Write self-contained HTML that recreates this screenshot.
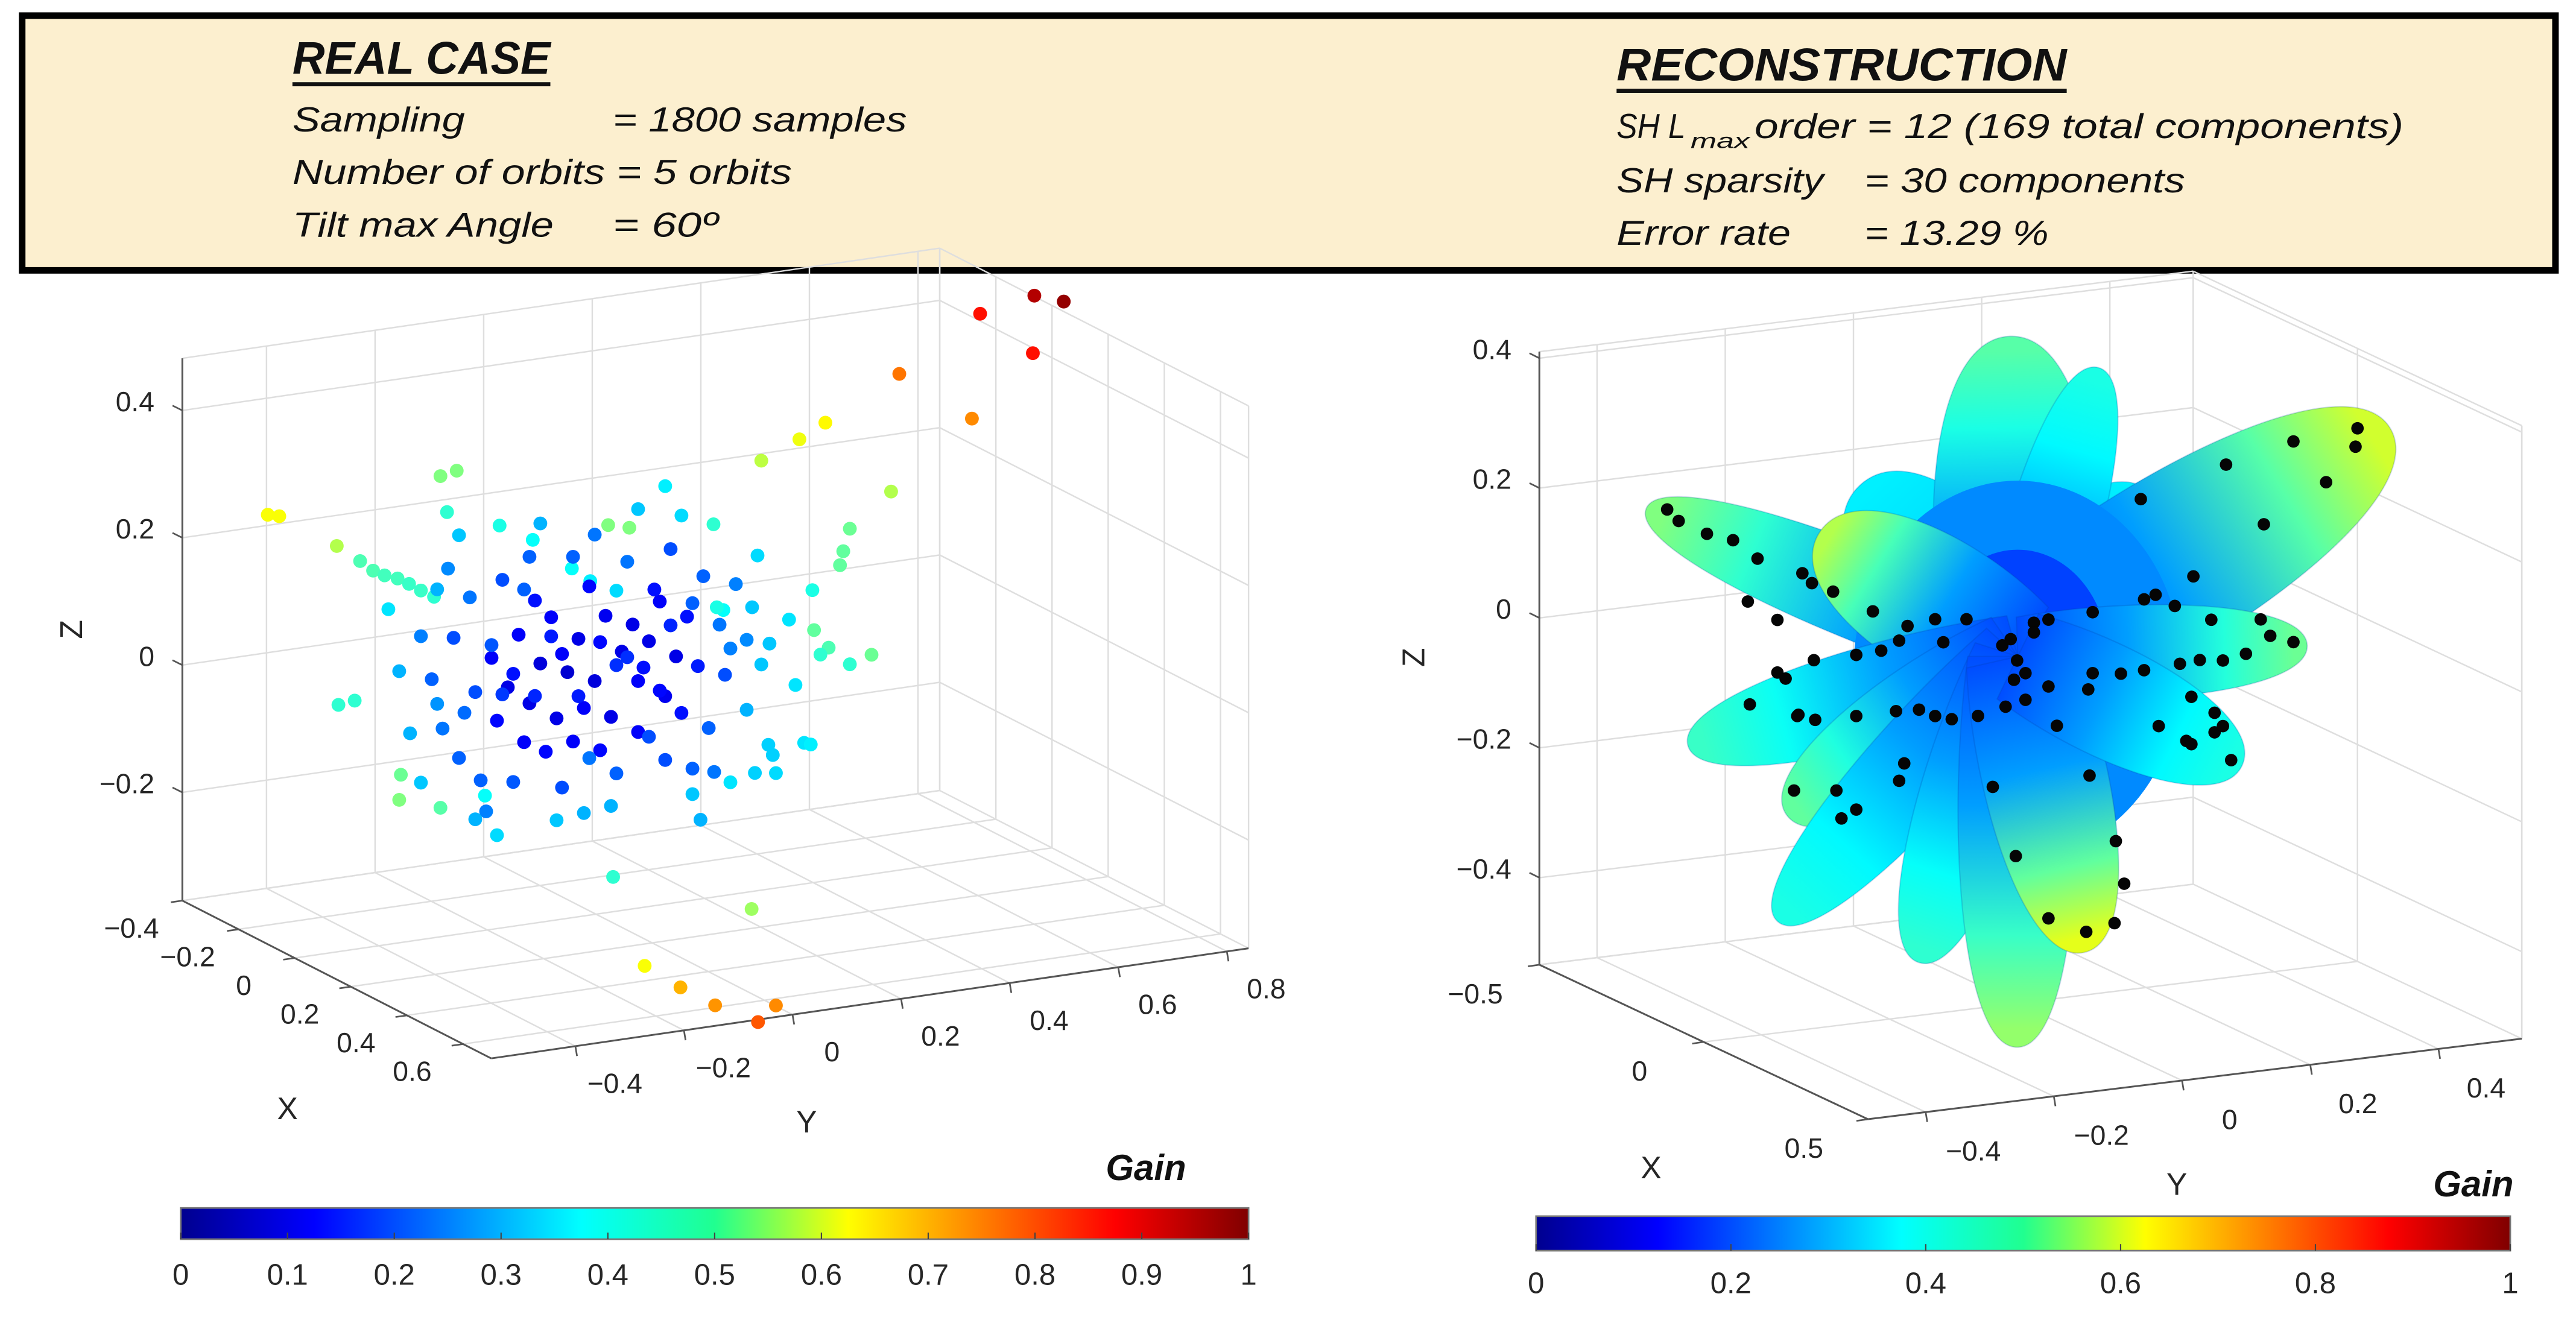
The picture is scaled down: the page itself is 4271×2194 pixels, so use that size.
<!DOCTYPE html>
<html><head><meta charset="utf-8">
<style>
html,body{margin:0;padding:0;background:#fff;}
svg{display:block;}
text{font-family:"Liberation Sans",Arial,sans-serif;}
</style></head>
<body>
<svg id="fig" xmlns="http://www.w3.org/2000/svg" width="4271" height="2194" viewBox="0 0 1568 805" preserveAspectRatio="none">
  <defs>
    <linearGradient id="jetbar" x1="0" y1="0" x2="1" y2="0">
      <stop offset="0" stop-color="#00008f"/>
      <stop offset="0.125" stop-color="#0000ff"/>
      <stop offset="0.375" stop-color="#00ffff"/>
      <stop offset="0.5" stop-color="#20ff90"/>
      <stop offset="0.625" stop-color="#ffff00"/>
      <stop offset="0.875" stop-color="#ff0000"/>
      <stop offset="1" stop-color="#800000"/>
    </linearGradient>
  </defs>
  <g>
    <rect x="13.5" y="9.5" width="1542" height="155" fill="#fcefcf" stroke="#000" stroke-width="4"/>
    <g font-style="italic" fill="#111">
      <text x="178" y="45" font-size="28" font-weight="bold" textLength="157" lengthAdjust="spacingAndGlyphs">REAL CASE</text>
      <rect x="178" y="50" width="157" height="2.5" fill="#111"/>
      <text x="178" y="80" font-size="21" textLength="105" lengthAdjust="spacingAndGlyphs">Sampling</text>
      <text x="373" y="80" font-size="21" textLength="179" lengthAdjust="spacingAndGlyphs">=  1800 samples</text>
      <text x="178" y="112" font-size="21" textLength="304" lengthAdjust="spacingAndGlyphs">Number of orbits = 5 orbits</text>
      <text x="178" y="144" font-size="21" textLength="159" lengthAdjust="spacingAndGlyphs">Tilt max Angle</text>
      <text x="373" y="144" font-size="21" textLength="64" lengthAdjust="spacingAndGlyphs">=  60º</text>

      <text x="984" y="49" font-size="28" font-weight="bold" textLength="274" lengthAdjust="spacingAndGlyphs">RECONSTRUCTION</text>
      <rect x="984" y="54" width="274" height="2.5" fill="#111"/>
      <text x="984" y="84" font-size="21" textLength="42" lengthAdjust="spacingAndGlyphs">SH L</text>
      <text x="1029" y="90" font-size="13" textLength="36" lengthAdjust="spacingAndGlyphs">max</text>
      <text x="1068" y="84" font-size="21" textLength="395" lengthAdjust="spacingAndGlyphs">order =  12  (169 total components)</text>
      <text x="984" y="117" font-size="21" textLength="126" lengthAdjust="spacingAndGlyphs">SH sparsity</text>
      <text x="1135" y="117" font-size="21" textLength="195" lengthAdjust="spacingAndGlyphs">=  30 components</text>
      <text x="984" y="149" font-size="21" textLength="106" lengthAdjust="spacingAndGlyphs">Error rate</text>
      <text x="1135" y="149" font-size="21" textLength="112" lengthAdjust="spacingAndGlyphs">=  13.29 %</text>
    </g>
  </g>
  <g id="left"></g>
  <g id="right"></g>
  <g id="cbars"></g>
</svg>
<script>
// ---------- LEFT CHART DATA (real case samples) ----------
const leftXTicks = [-0.4, -0.2, 0, 0.2, 0.4, 0.6];
const leftYTicks = [-0.4, -0.2, 0, 0.2, 0.4, 0.6, 0.8];
const leftZTicks = [-0.2, 0, 0.2, 0.4];
const LEFT_X = 0.15;
const leftY = [0.73,0.784,0.63,0.727,0.481,0.615,0.345,0.297,0.227,0.466,0.39,0.378,0.372,-0.682,-0.661,-0.555,-0.512,-0.488,-0.467,-0.443,-0.422,-0.40,-0.376,-0.364,-0.334,-0.352,-0.255,-0.194,-0.055,-0.016,0.139,-0.122,-0.088,-0.04,-0.437,-0.44,-0.364,-0.282,-0.552,-0.522,-0.10,0.115,-0.046,0.209,0.012,0.078,0.142,0.221,0.254,
0.43,0.39,0.351,0.336,0.324,0.321,0.306,0.318,0.254,0.215,0.248,0.29,0.242,0.278,0.227,0.157,0.145,
-0.27,-0.24,-0.22,-0.2,-0.18,-0.16,-0.15,-0.13,-0.11,-0.1,-0.08,-0.06,-0.05,-0.03,-0.01,0.0,0.02,0.04,0.05,0.07,-0.26,-0.21,-0.17,-0.12,-0.07,0.0,0.03,-0.19,-0.09,0.09,0.11,0.08,
-0.23,-0.19,-0.14,-0.11,-0.07,-0.04,0.01,0.06,-0.25,-0.16,-0.02,0.04,
-0.38,-0.36,-0.34,-0.33,-0.31,-0.3,-0.29,-0.25,-0.23,-0.2,-0.14,-0.12,-0.04,-0.02,0.05,0.06,0.12,0.13,0.15,0.16,0.18,0.14,0.1,-0.08,0.2,-0.4,-0.35,-0.28,
-0.32,-0.27,-0.09,0.02,0.1,0.17,-0.37,-0.21,
-0.44,-0.42,-0.4,-0.37,-0.33,-0.3,-0.26,-0.18,-0.15,-0.05,0.0,0.08,0.1,0.17,0.21,0.22,0.24,0.2,-0.46,0.05];
const leftZ = [0.545,0.529,0.529,0.455,0.453,0.366,0.393,0.373,0.348,0.27,0.221,0.187,0.166,0.376,0.371,0.311,0.282,0.264,0.254,0.246,0.235,0.222,0.209,0.397,0.402,0.339,0.306,0.276,0.282,0.273,0.259,0.222,0.198,0.177,-0.063,-0.102,-0.124,-0.115,0.061,0.064,-0.165,-0.202,-0.272,-0.354,-0.419,-0.461,-0.497,-0.533,-0.511,
0.018,0.008,0.039,0.03,0.07,0.133,-0.105,-0.109,-0.146,-0.141,-0.117,-0.012,0.059,0.092,0.028,0.122,0.128,
0.10,0.05,0.13,0.02,0.08,0.15,-0.01,0.06,0.11,0.0,0.04,0.14,-0.02,0.08,0.12,0.03,0.09,0.15,0.0,0.06,0.0,-0.04,-0.06,-0.05,-0.07,-0.05,0.17,0.18,0.19,0.12,0.04,-0.03,
0.07,0.03,0.09,0.02,0.1,0.06,0.05,0.11,0.04,0.12,0.07,0.01,
0.08,0.0,0.14,-0.05,0.2,0.05,-0.09,0.22,-0.1,0.25,-0.12,0.24,-0.11,0.22,-0.1,0.23,0.18,-0.06,0.1,0.02,0.16,-0.13,-0.12,0.27,0.07,0.15,0.25,-0.14,
0.02,0.12,-0.08,-0.06,0.14,0.06,0.04,0.2,
0.1,0.0,-0.08,0.22,0.3,-0.15,-0.18,0.3,-0.17,-0.16,0.3,0.28,-0.16,-0.15,0.12,0.2,-0.1,-0.04,0.2,0.33];
const leftGain = [0.95,0.98,0.86,0.86,0.76,0.74,0.63,0.61,0.56,0.55,0.48,0.47,0.47,0.62,0.62,0.55,0.45,0.45,0.44,0.44,0.43,0.43,0.42,0.5,0.5,0.42,0.4,0.38,0.5,0.5,0.42,0.38,0.36,0.34,0.48,0.5,0.46,0.38,0.42,0.42,0.3,0.3,0.42,0.53,0.62,0.7,0.73,0.79,0.74,
0.48,0.42,0.45,0.42,0.47,0.4,0.35,0.36,0.34,0.33,0.33,0.35,0.32,0.35,0.32,0.38,0.4,
0.12,0.1,0.12,0.1,0.09,0.12,0.1,0.08,0.1,0.12,0.09,0.11,0.1,0.1,0.1,0.12,0.1,0.12,0.11,0.1,0.13,0.12,0.13,0.12,0.13,0.12,0.14,0.14,0.13,0.14,0.15,0.14,
0.14,0.16,0.12,0.15,0.13,0.17,0.14,0.16,0.18,0.15,0.17,0.13,
0.22,0.24,0.2,0.22,0.24,0.2,0.22,0.2,0.21,0.22,0.2,0.22,0.22,0.24,0.2,0.2,0.22,0.22,0.24,0.2,0.25,0.24,0.22,0.24,0.26,0.25,0.26,0.25,
0.23,0.21,0.24,0.2,0.22,0.25,0.27,0.22,
0.3,0.3,0.32,0.3,0.32,0.3,0.34,0.3,0.32,0.3,0.32,0.34,0.32,0.35,0.32,0.34,0.33,0.3,0.35,0.36];

// ---------- RIGHT CHART DATA (reconstruction) ----------
const rightXTicks = [-0.5, 0, 0.5];
const rightYTicks = [-0.4, -0.2, 0, 0.2, 0.4];
const rightZTicks = [-0.4, -0.2, 0, 0.2, 0.4];
const lobeY = [-0.234,0.197,-0.011,0.12,0.553,-0.552,-0.295,0.43,-0.49,-0.344,-0.357,-0.147,-0.001,0.099,0.333];
const lobeZ = [0.28,0.218,0.471,0.409,0.268,0.284,0.217,-0.036,-0.071,-0.19,-0.345,-0.431,-0.573,-0.446,-0.201];
const lobeGain = [0.36,0.36,0.46,0.4,0.58,0.5,0.55,0.48,0.43,0.47,0.4,0.42,0.52,0.6,0.4];
const sampleY = [0.53,0.527,0.481,0.384,0.274,0.197,0.215,0.192,0.325,0.43,-0.547,-0.529,-0.444,-0.485,-0.406,-0.336,-0.321,-0.288,-0.226,-0.421,-0.375,-0.129,-0.08,-0.172,-0.116,-0.185,-0.213,-0.252,-0.318,-0.375,-0.362,-0.418,-0.342,-0.316,-0.252,-0.19,-0.154,-0.129,-0.103,-0.062,-0.019,0.012,0.048,0.11,0.117,0.161,0.197,0.253,0.284,0.32,0.356,0.394,0.379,0.43,0.302,0.245,-0.024,-0.011,0.025,0.048,0.025,-0.001,-0.006,0.012,0.117,0.22,0.263,0.271,0.307,0.32,0.333,0.307,0.271,0.061,-0.349,-0.283,-0.275,-0.252,-0.185,-0.177,-0.039,0.112,0.153,-0.003,0.166,0.048,0.107,0.151,-0.344];
const sampleZ = [0.287,0.259,0.21,0.157,0.09,0.064,0.069,0.219,0.256,0.279,0.293,0.273,0.233,0.248,0.2,0.169,0.152,0.135,0.097,0.136,0.102,0.073,0.067,0.068,0.036,0.047,0.035,0.033,0.033,0.021,0.01,-0.023,-0.048,-0.059,-0.061,-0.061,-0.063,-0.076,-0.084,-0.084,-0.075,-0.068,-0.052,-0.064,-0.04,-0.046,-0.045,-0.042,-0.04,-0.045,-0.039,-0.016,0.011,-0.03,0.02,0.048,0.02,0.028,0.049,0.051,0.034,-0.006,-0.035,-0.027,0.054,-0.134,-0.162,-0.168,-0.154,-0.146,-0.2,-0.124,-0.095,-0.114,-0.164,-0.172,-0.216,-0.205,-0.169,-0.143,-0.196,-0.197,-0.303,-0.307,-0.37,-0.409,-0.437,-0.429,-0.05];

// ---------- COLORBAR DATA ----------
const leftBarTicks = [0,0.1,0.2,0.3,0.4,0.5,0.6,0.7,0.8,0.9,1];
const rightBarTicks = [0,0.2,0.4,0.6,0.8,1];

// ---------- helpers ----------
const NS = "http://www.w3.org/2000/svg";
function mk(parent, tag, attrs){ const e=document.createElementNS(NS,tag); for(const k in attrs) e.setAttribute(k,attrs[k]); parent.appendChild(e); return e; }
function clamp(v){ return Math.max(0, Math.min(1, v)); }
function jet(v){
  const r=clamp(1.5-Math.abs(4*v-3)), g=clamp(1.5-Math.abs(4*v-2)), b=clamp(1.5-Math.abs(4*v-1));
  return "rgb("+Math.round(r*255)+","+Math.round(g*255)+","+Math.round(b*255)+")";
}
function fmt(v){ if(Math.abs(v)<1e-9) return "0"; const s=String(Math.round(v*10)/10); return v<0 ? "\u2212"+s.slice(1) : s; }
function makeAxes(cfg){
  return function(x,y,z){
    const u=(x-cfg.xr[0])/(cfg.xr[1]-cfg.xr[0]);
    const v=(y-cfg.yr[0])/(cfg.yr[1]-cfg.yr[0]);
    const w=(z-cfg.zr[0])/(cfg.zr[1]-cfg.zr[0]);
    return [cfg.A[0]+u*(cfg.B[0]-cfg.A[0])+v*(cfg.C[0]-cfg.B[0]),
            cfg.A[1]+u*(cfg.B[1]-cfg.A[1])+v*(cfg.C[1]-cfg.B[1])-w*cfg.H];
  };
}
function line(g,p,q,stroke,sw,name){
  const l=mk(g,"line",{x1:p[0],y1:p[1],x2:q[0],y2:q[1],stroke:stroke,"stroke-width":sw});
  
  
  return l;
}
function label(g,x,y,str,anchor,size,name){
  const t=mk(g,"text",{x:x,y:y,"text-anchor":anchor,"font-size":size,fill:"#262626","dominant-baseline":"middle"});
  t.textContent=str;
  
  
  return t;
}
function drawBox(g,cfg,P,xt,yt,zt,lab){
  const gc="#dedede", x0=cfg.xr[0], x1=cfg.xr[1], y0=cfg.yr[0], y1=cfg.yr[1], z0=cfg.zr[0], z1=cfg.zr[1];
  const grid=mk(g,"g",{});
  
  
  xt.forEach(x=>line(grid,P(x,y0,z0),P(x,y1,z0),gc,0.9,"floor-grid-x"));
  yt.forEach(y=>line(grid,P(x0,y,z0),P(x1,y,z0),gc,0.9,"floor-grid-y"));
  yt.forEach(y=>line(grid,P(x0,y,z0),P(x0,y,z1),gc,0.9,"wall-grid-y"));
  zt.forEach(z=>line(grid,P(x0,y0,z),P(x0,y1,z),gc,0.9,"wall-grid-z"));
  xt.forEach(x=>line(grid,P(x,y1,z0),P(x,y1,z1),gc,0.9,"wall2-grid-x"));
  zt.forEach(z=>line(grid,P(x0,y1,z),P(x1,y1,z),gc,0.9,"wall2-grid-z"));
  line(grid,P(x0,y1,z0),P(x0,y1,z1),gc,0.9,"box-edge");
  line(grid,P(x1,y1,z0),P(x1,y1,z1),gc,0.9,"box-edge");
  line(grid,P(x0,y0,z1),P(x0,y1,z1),gc,0.9,"box-edge");
  line(grid,P(x0,y1,z1),P(x1,y1,z1),gc,0.9,"box-edge");
  line(grid,P(x0,y1,z0),P(x1,y1,z0),gc,0.9,"box-edge");
  line(grid,P(x0,y0,z0),P(x0,y1,z0),gc,0.9,"box-edge");
  const ax=mk(g,"g",{});
  
  
  const ac="#555";
  line(ax,P(x0,y0,z0),P(x0,y0,z1),ac,1.1,"z-axis-line");
  line(ax,P(x0,y0,z0),P(x1,y0,z0),ac,1.1,"x-axis-line");
  line(ax,P(x1,y0,z0),P(x1,y1,z0),ac,1.1,"y-axis-line");
  zt.forEach(z=>{ const p=P(x0,y0,z); line(ax,p,[p[0]-6,p[1]-3],ac,1,"z-tick"); label(ax,p[0]-17,p[1]-4,fmt(z),"end",17,"z-tick-label"); });
  xt.forEach(x=>{ const p=P(x,y0,z0); line(ax,p,[p[0]-7,p[1]+1],ac,1,"x-tick"); label(ax,p[0]+lab.xo[0],p[1]+lab.xo[1],fmt(x),"middle",17,"x-tick-label"); });
  yt.forEach(y=>{ const p=P(x1,y,z0); line(ax,p,[p[0]+1,p[1]+6],ac,1,"y-tick"); label(ax,p[0]+lab.yo[0],p[1]+lab.yo[1],fmt(y),"middle",17,"y-tick-label"); });
  label(ax,lab.X[0],lab.X[1],"X","middle",19,"x-axis-title");
  label(ax,lab.Y[0],lab.Y[1],"Y","middle",19,"y-axis-title");
  const zt2=label(ax,lab.Z[0],lab.Z[1],"Z","middle",19,"z-axis-title");
  zt2.setAttribute("transform","rotate(-90 "+lab.Z[0]+" "+lab.Z[1]+")");
}

// ---------- LEFT ----------
const LC={A:[111,548],B:[299,644],C:[760,577],H:330,xr:[-0.4,0.70],yr:[-0.555,0.84],zr:[-0.37,0.482]};
const PL=makeAxes(LC);
const gL=document.getElementById("left");
drawBox(gL,LC,PL,leftXTicks,leftYTicks,leftZTicks,{xo:[-31,18],yo:[24,24],X:[175,676],Y:[491,684],Z:[45,383]});
const pts=mk(gL,"g",{});


leftY.forEach((y,i)=>{
  const p=PL(LEFT_X,y,leftZ[i]);
  const c=mk(pts,"circle",{cx:p[0].toFixed(1),cy:p[1].toFixed(1),r:4.2,fill:jet(leftGain[i])});
  
  
});

// ---------- RIGHT ----------
const RC={A:[937,587],B:[1137,681],C:[1535,632],H:373,xr:[-0.5,0.5],yr:[-0.49,0.53],zr:[-0.534,0.41]};
const PR=makeAxes(RC);
const gR=document.getElementById("right");
drawBox(gR,RC,PR,rightXTicks,rightYTicks,rightZTicks,{xo:[-39,19],yo:[29,25],X:[1005,712],Y:[1325,722],Z:[862,400]});
const lobeHalfWidth=[48,42,52,30,55,30,44,30,32,36,32,34,38,40,36];
const backLobes=[0,1,2,3,4,5];
const frontLobes=[6,7,8,9,10,11,12,13,14];
const defs=document.querySelector("defs");
const surf=mk(gR,"g",{});


const C0=PR(0,0,0);
function drawLobe(i){
  const t=PR(0,lobeY[i],lobeZ[i]);
  const dx=t[0]-C0[0], dy=t[1]-C0[1], L=Math.hypot(dx,dy);
  const d=[dx/L,dy/L], n=[-d[1],d[0]], w=lobeHalfWidth[i];
  const f=(a,b)=>[(C0[0]+d[0]*a+n[0]*b).toFixed(1),(C0[1]+d[1]*a+n[1]*b).toFixed(1)].join(",");
  const gid="lg"+i;
  const lg=mk(defs,"linearGradient",{id:gid,gradientUnits:"userSpaceOnUse",x1:C0[0],y1:C0[1],x2:t[0],y2:t[1]});
  mk(lg,"stop",{offset:"0","stop-color":jet(0.2)});
  mk(lg,"stop",{offset:"0.4","stop-color":jet(0.28)});
  mk(lg,"stop",{offset:"0.75","stop-color":jet((0.34+lobeGain[i])/2)});
  mk(lg,"stop",{offset:"1","stop-color":jet(lobeGain[i])});
  const path="M"+f(0,-w*0.8)+" C"+f(L*0.45,-w*1.15)+" "+f(L*1.05,-w*0.9)+" "+f(L*1.05,0)+" C"+f(L*1.05,w*0.9)+" "+f(L*0.45,w*1.15)+" "+f(0,w*0.8)+" Z";
  const p=mk(surf,"path",{d:path,fill:"url(#"+gid+")",stroke:"rgba(0,60,160,0.2)","stroke-width":0.8});
  
  
}
backLobes.forEach(drawLobe);
const body=mk(surf,"ellipse",{cx:C0[0],cy:C0[1]+8,rx:100,ry:115,fill:jet(0.26)});


const core=mk(surf,"ellipse",{cx:C0[0],cy:C0[1],rx:55,ry:65,fill:jet(0.19)});


frontLobes.forEach(drawLobe);
const bp=mk(gR,"g",{});


sampleY.forEach((y,i)=>{
  const p=PR(0,y,sampleZ[i]);
  const c=mk(bp,"circle",{cx:p[0].toFixed(1),cy:p[1].toFixed(1),r:3.8,fill:"#050505"});
  
  
});

// ---------- COLORBARS ----------
const gC=document.getElementById("cbars");
function colorbar(x0,x1,y,h,ticks,labelY,gainX,gainY,name){
  const g=mk(gC,"g",{});
  
  
  const r=mk(g,"rect",{x:x0,y:y,width:x1-x0,height:h,fill:"url(#jetbar)",stroke:"#777","stroke-width":1});
  
  
  ticks.forEach(v=>{
    const x=x0+v*(x1-x0);
    line(g,[x,y+h],[x,y+h-4],"#444",0.8,"colorbar-tick");
    label(g,x,labelY,String(v),"middle",18,"colorbar-tick-label");
  });
  const t=mk(g,"text",{x:gainX,y:gainY,"text-anchor":"end","font-size":22,"font-weight":"bold","font-style":"italic",fill:"#111"});
  t.textContent="Gain";
  
  
}
colorbar(110,760,735,19,leftBarTicks,777,722,718,"left-colorbar");
colorbar(935,1528,740,21,rightBarTicks,782,1530,728,"right-colorbar");
</script>
</body></html>
